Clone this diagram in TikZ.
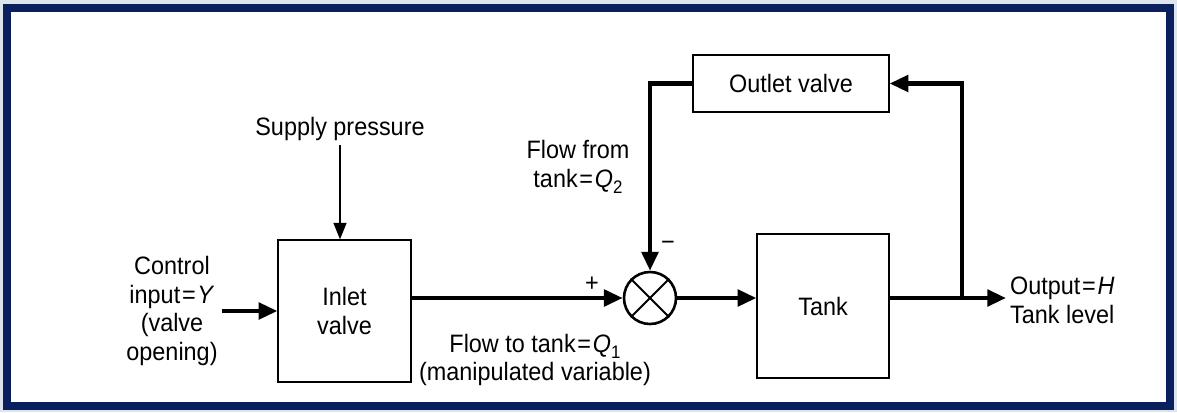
\documentclass[tikz,border=0pt]{standalone}
\usepackage{fontspec}
\setmainfont{Liberation Sans}[FakeStretch=0.93]
\usetikzlibrary{arrows.meta, positioning, calc}
\definecolor{framenavy}{RGB}{10,32,92}
\definecolor{edgegray}{RGB}{222,228,238}
\newcommand{\lowsub}[1]{\raisebox{-0.45ex}{\fontsize{15.5}{15.5}\selectfont #1}}
\newcommand{\eqs}{\kern1.5pt=\kern1.5pt}

\begin{document}
\begin{tikzpicture}[x=0.03cm, y=-0.03cm,
    every node/.style={font=\fontsize{21.5}{24.6}\selectfont},
    block/.style={draw, line width=1.1pt, align=center, inner sep=0pt},
    flow/.style={line width=3.6pt, -{Triangle[length=16pt, width=14pt]}},
    feed/.style={line width=1.3pt, -{Triangle[length=14pt, width=11pt]}}]
    % Frame
    \fill[edgegray] (0,0) rectangle (1177,412);
    \fill[white] (3,4) rectangle (1174,410);
    \draw[framenavy, line width=0.24cm] (7,8) rectangle (1170,406);
    \useasboundingbox (0,0) rectangle (1177,412);
    
    % Blocks
    \node[block, minimum width=3.99cm, minimum height=4.26cm] (inlet) at (344.5,311) {Inlet\\valve};
    \node[block, minimum width=3.96cm, minimum height=4.32cm] (tank) at (823,306) {Tank};
    \node[block, minimum width=5.88cm, minimum height=1.71cm] (outlet) at (791,83.5) {Outlet valve};
    
    % Summing junction
    \node[circle, draw, line width=2.2pt, minimum size=1.56cm, inner sep=0pt] (sum) at (650,298) {};
    \draw[line width=1.6pt] (sum.north west) -- (sum.south east);
    \draw[line width=1.6pt] (sum.north east) -- (sum.south west);
    \node at (592,284) {+};
    \node at (668,246) {−};
    
    % Inputs
    \node (supply) at (340,129) {Supply pressure};
    \draw[feed] (supply.south) -- (supply.south |- inlet.north);
    \node[align=center] (ctrl) at (172,311) {Control\\input\eqs\textit{Y}\\(valve\\opening)};
    \draw[flow] (ctrl.east |- inlet) -- (inlet.west);
    
    % Forward path
    \draw[flow] (inlet.east |- sum.west) -- (sum.west);
    \node[align=center] (qin) at (535,360) {Flow to tank\eqs\textit{Q}\lowsub{1}\\(manipulated variable)};
    \draw[flow] (sum.east) -- (sum.east -| tank.west);
    
    % Output
    \coordinate (branch) at (962,298);
    \node[anchor=west, align=left] (output) at (1006,300) {Output\eqs\textit{H}\\Tank level};
    \draw[flow] (tank.east |- branch) -- (output.west |- branch);
    
    % Feedback through outlet valve
    \draw[flow] (branch) |- (outlet.east);
    \draw[flow] (outlet.west) -| (sum.north);
    \node[align=center] (qout) at (578,167) {Flow from\\tank\eqs\textit{Q}\lowsub{2}};
\end{tikzpicture}
\end{document}
